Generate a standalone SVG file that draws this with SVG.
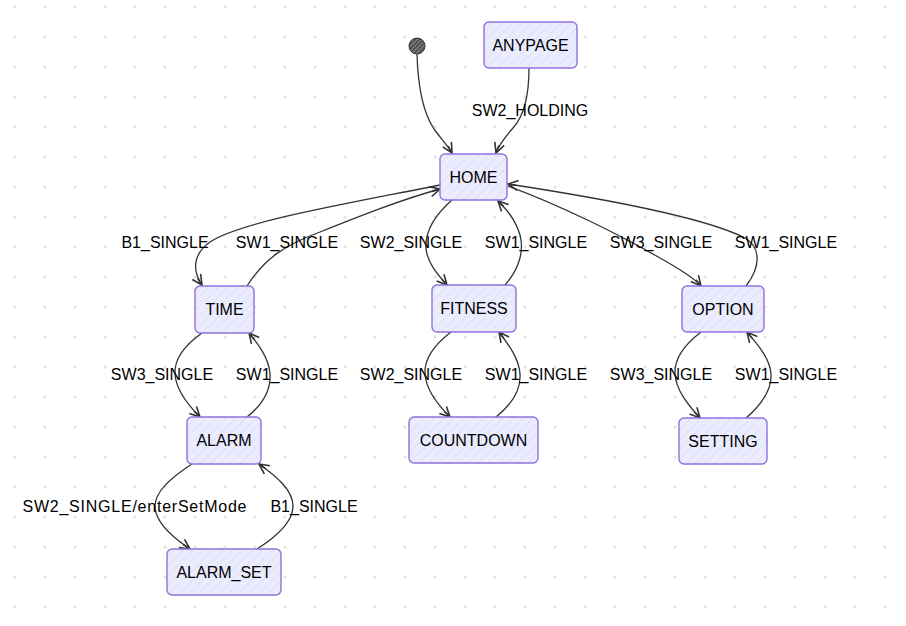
<svg xmlns="http://www.w3.org/2000/svg" width="906" height="626" viewBox="0 0 906 626">
<style>
.node rect{fill:url(#hatch);stroke:#9370DB;stroke-width:1.4}
.node text,.lbl{font-family:"Liberation Sans",Arial,sans-serif;font-size:16px;fill:#000;text-anchor:middle}
.edge{fill:none;stroke:#333;stroke-width:1.3;marker-end:url(#arr)}
</style>
<defs>
<pattern id="dots" width="30" height="30" patternUnits="userSpaceOnUse">
<circle cx="15" cy="7" r="1.6" fill="#e3e3e3"/>
</pattern>
<pattern id="hatch" width="7" height="7" patternUnits="userSpaceOnUse" patternTransform="rotate(45)">
<rect width="7" height="7" fill="#ECECFF"/>
<line x1="0" y1="0" x2="0" y2="7" stroke="#dcdcf6" stroke-width="1.6"/>
</pattern>
<pattern id="darkhatch" width="3" height="3" patternUnits="userSpaceOnUse" patternTransform="rotate(45)">
<rect width="3" height="3" fill="#777"/>
<line x1="0" y1="0" x2="0" y2="3" stroke="#222" stroke-width="1.4"/>
</pattern>
<marker id="arr" viewBox="0 0 12 12" refX="11" refY="6" markerWidth="12" markerHeight="12" markerUnits="userSpaceOnUse" orient="auto">
<path d="M1,1 L11,6 L1,11 M3,6 L11,6" fill="none" stroke="#333" stroke-width="1.6"/>
</marker>
</defs>
<rect width="906" height="626" fill="#fff"/>
<rect width="906" height="626" fill="url(#dots)"/>

<g id="edges">
<path class="edge" d="M417,54 C418,90 424,114 434,129 C442,140 448,146 452,153"/>
<path class="edge" d="M529,68 C529,95 525,115 513,128 C505,137 499,145 496,153"/>
<path class="edge" d="M440,185 C340,205 240,222 210,242 C193,254 192,270 202,285"/>
<path class="edge" d="M247,286 C265,258 285,245 320,232 C360,216 400,200 440,189"/>
<path class="edge" d="M452,200 C435,215 425,232 426,248 C427,262 437,274 447,285"/>
<path class="edge" d="M505,285 C520,268 524,250 520,235 C515,218 505,208 498,201"/>
<path class="edge" d="M508,186 C560,205 620,235 660,258 C685,272 696,280 701,286"/>
<path class="edge" d="M746,286 C760,268 762,248 745,238 C700,215 580,195 508,184"/>
<path class="edge" d="M202,333 C185,345 174,358 175,374 C176,390 188,405 200,417"/>
<path class="edge" d="M247,417 C262,405 271,390 270,374 C269,358 258,344 249,333"/>
<path class="edge" d="M451,332 C434,345 424,358 425,374 C426,390 438,405 450,417"/>
<path class="edge" d="M496,417 C511,405 521,390 520,374 C519,358 508,344 499,332"/>
<path class="edge" d="M701,332 C684,345 674,358 675,374 C676,390 688,405 700,418"/>
<path class="edge" d="M746,418 C761,405 772,390 771,374 C770,358 757,344 747,332"/>
<path class="edge" d="M192,464 C170,478 155,492 155,506 C155,522 172,537 190,549"/>
<path class="edge" d="M257,549 C276,537 293,522 293,506 C293,490 276,476 259,464"/>
</g>

<g id="labels">
<text class="lbl" x="530" y="116">SW2_HOLDING</text>
<text class="lbl" x="165" y="248">B1_SINGLE</text>
<text class="lbl" x="287" y="248">SW1_SINGLE</text>
<text class="lbl" x="411" y="248">SW2_SINGLE</text>
<text class="lbl" x="536" y="248">SW1_SINGLE</text>
<text class="lbl" x="661" y="248">SW3_SINGLE</text>
<text class="lbl" x="786" y="248">SW1_SINGLE</text>
<text class="lbl" x="162" y="380">SW3_SINGLE</text>
<text class="lbl" x="287" y="380">SW1_SINGLE</text>
<text class="lbl" x="411" y="380">SW2_SINGLE</text>
<text class="lbl" x="536" y="380">SW1_SINGLE</text>
<text class="lbl" x="661" y="380">SW3_SINGLE</text>
<text class="lbl" x="786" y="380">SW1_SINGLE</text>
<text class="lbl" x="134.5" y="512" textLength="224" lengthAdjust="spacing">SW2_SINGLE/enterSetMode</text>
<text class="lbl" x="314" y="512">B1_SINGLE</text>
</g>

<g id="start"><circle cx="417" cy="46" r="8" fill="url(#darkhatch)" stroke="#333" stroke-width="1"/></g>
<g id="ANYPAGE" class="node"><rect x="484" y="22" width="93" height="46" rx="5"/><text x="530.5" y="51">ANYPAGE</text></g>
<g id="HOME" class="node"><rect x="440" y="154" width="67" height="46" rx="5"/><text x="473.5" y="183">HOME</text></g>
<g id="TIME" class="node"><rect x="195" y="286" width="59" height="47" rx="5"/><text x="224.5" y="315">TIME</text></g>
<g id="FITNESS" class="node"><rect x="432" y="285" width="84" height="47" rx="5"/><text x="474" y="314">FITNESS</text></g>
<g id="OPTION" class="node"><rect x="682" y="286" width="82" height="46" rx="5"/><text x="723" y="315">OPTION</text></g>
<g id="ALARM" class="node"><rect x="187" y="417" width="74" height="47" rx="5"/><text x="224" y="446">ALARM</text></g>
<g id="COUNTDOWN" class="node"><rect x="409" y="417" width="129" height="46" rx="5"/><text x="473.5" y="446">COUNTDOWN</text></g>
<g id="SETTING" class="node"><rect x="679" y="418" width="88" height="46" rx="5"/><text x="723" y="447">SETTING</text></g>
<g id="ALARM_SET" class="node"><rect x="167" y="549" width="114" height="46" rx="5"/><text x="224" y="578">ALARM_SET</text></g>
</svg>
